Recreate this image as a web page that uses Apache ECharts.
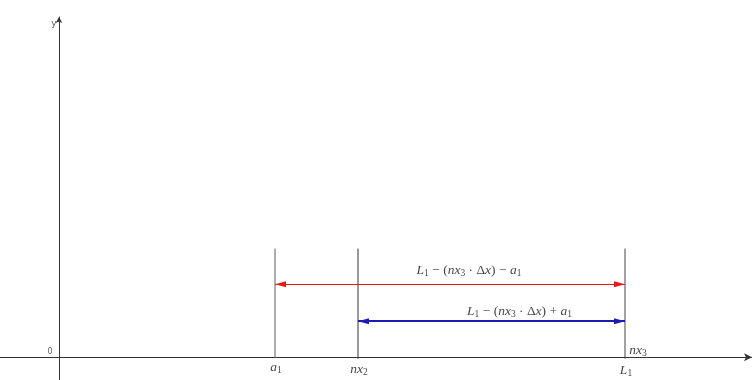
<!DOCTYPE html>
<html>
<head>
<meta charset="utf-8">
<script src="https://cdn.jsdelivr.net/npm/echarts@6/dist/echarts.min.js"></script>
<style>html,body{margin:0;padding:0;background:#fff}#c{width:752px;height:380px}</style>
</head>
<body>
<div id="c"></div>
<script>
// ---- data (axis units) ----
const xRange = [-5.9, 69.3];
const yRange = [-2.3, 34.3];
const markNames = ['a1', 'nx2', 'L1'];
const markX = [21.6, 29.9, 56.6];
const markTop = 10.95;
const redSpan = [21.6, 56.6];
const redY = 7.35;
const blueSpan = [29.9, 56.6];
const blueY = 3.63;

const chart = echarts.init(document.getElementById('c'), null, {renderer: 'canvas'});

const serif = 'Liberation Serif';
const rich = {
  i: {fontFamily: serif, fontStyle: 'italic', fontSize: 13.5, color: '#111', lineHeight: 16, verticalAlign: 'middle'},
  n: {fontFamily: serif, fontSize: 13.5, color: '#111', lineHeight: 16, verticalAlign: 'middle'},
  s: {fontFamily: serif, fontSize: 9.5, color: '#111', lineHeight: 16, verticalAlign: 'bottom'}
};
const markRich = {
  a1: '{i|a}{s|1}',
  nx2: '{i|nx}{s|2}',
  L1: '{i|L}{s|1}'
};
const redText = '{i|L}{s|1}{n| − (}{i|nx}{s|3}{n| · Δ}{i|x}{n|) − }{i|a}{s|1}';
const blueText = '{i|L}{s|1}{n| − (}{i|nx}{s|3}{n| · Δ}{i|x}{n|) + }{i|a}{s|1}';

const markColors = ['#8a8a8a', '#333', '#444'];
const verticalSeries = markX.map((x, k) => ({
  type: 'line',
  data: [[x, k === 0 ? 0 : -0.15], [x, markTop]],
  symbol: 'none',
  silent: true,
  lineStyle: {color: markColors[k], width: k === 0 ? 1.4 : 1},
  z: 2
}));

function textPoint(value, text, offset, extra) {
  return {
    value: value,
    label: Object.assign({show: true, position: 'inside', formatter: text, rich: rich, offset: offset || [0, 0]}, extra || {})
  };
}

const labelData = markNames.map((n, k) => textPoint([markX[k], 0], markRich[n], [1, [10, 12, 13][k]]));
labelData.push(textPoint([markX[2], 0], '{i|nx}{s|3}', [13, -7]));
labelData.push(textPoint([(redSpan[0] + redSpan[1]) / 2, redY], redText, [19, -14]));
labelData.push(textPoint([(blueSpan[0] + blueSpan[1]) / 2, blueY], blueText, [28, -10]));
labelData.push({value: [0, yRange[1]], label: {show: true, position: 'inside', formatter: 'y', offset: [-5, 7], fontFamily: 'DejaVu Sans', fontSize: 9, color: '#333'}});
labelData.push({value: [0, 0], label: {show: true, position: 'inside', formatter: '0', offset: [-9, -5], fontFamily: 'DejaVu Sans', fontSize: 8, color: '#333'}});

// arrowhead whose tip sits at the centre of its box (upper half is empty)
const headPath = 'path://M3 0 M3 11 L6 22 L0 22 Z';
const headSize = [[6, 22], [6, 22]];

function arrowSeries(span, y, color, width) {
  return {
    type: 'lines', coordinateSystem: 'cartesian2d', silent: true, z: 3,
    symbol: [headPath, headPath], symbolSize: headSize,
    data: [{coords: [[span[0], y], [span[1], y]]}],
    lineStyle: {color: color, width: width, opacity: 1, curveness: 0}
  };
}

const option = {
  animation: false,
  backgroundColor: '#fff',
  grid: {left: 0, right: 0, top: 17, bottom: 0, outerBoundsMode: 'none'},
  xAxis: {
    type: 'value', min: xRange[0], max: xRange[1],
    axisLine: {onZero: true, lineStyle: {color: '#333', width: 1}, symbol: ['none', 'arrow'], symbolSize: [6, 8]},
    axisTick: {show: false}, axisLabel: {show: false}, splitLine: {show: false}
  },
  yAxis: {
    type: 'value', min: yRange[0], max: yRange[1],
    axisLine: {onZero: true, lineStyle: {color: '#333', width: 1}, symbol: ['none', 'arrow'], symbolSize: [5, 6]},
    axisTick: {show: false}, axisLabel: {show: false}, splitLine: {show: false}
  },
  series: verticalSeries.concat([
    arrowSeries(redSpan, redY, '#e41a1a', 1),
    arrowSeries(blueSpan, blueY, '#1c1cb4', 2.2),
    {
      type: 'scatter', symbolSize: 0, silent: true, z: 5,
      data: labelData
    }
  ])
};
chart.setOption(option);
</script>
</body>
</html>
